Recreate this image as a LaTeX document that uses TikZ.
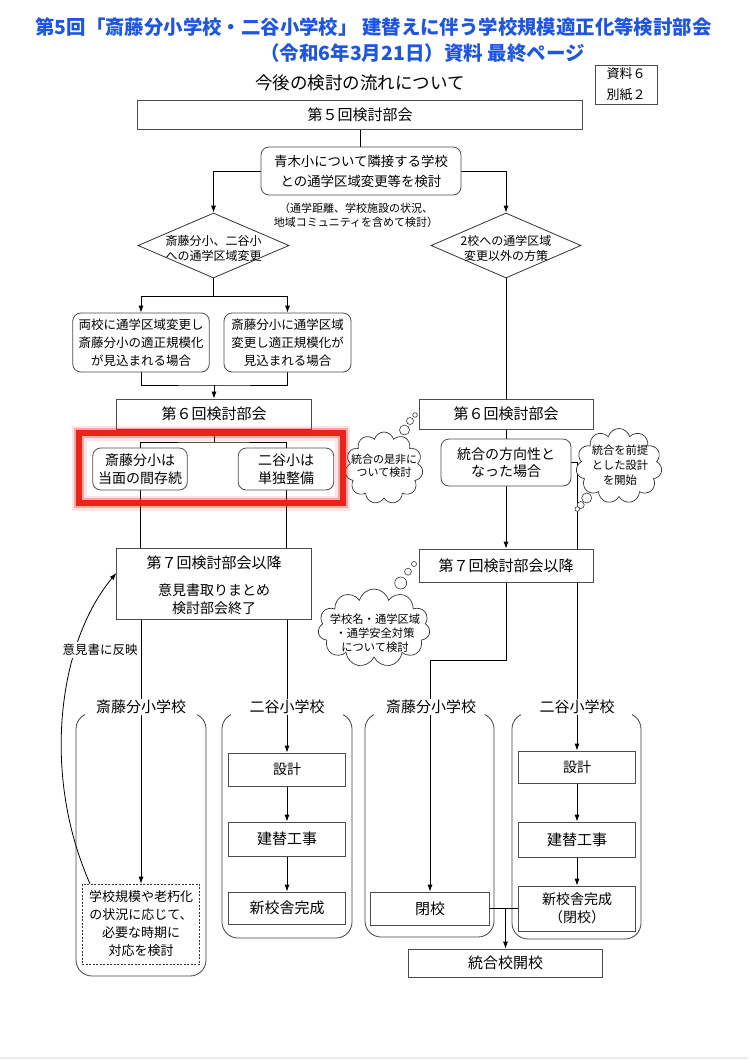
\documentclass[tikz,border=0pt]{standalone}
\usepackage{fontspec}
\setmainfont{Noto Sans CJK JP}
\usetikzlibrary{shapes.geometric,shapes.symbols,arrows.meta,backgrounds}
\definecolor{titleblue}{RGB}{30,85,225}
\definecolor{hlred}{RGB}{235,35,25}
\tikzset{
 bx/.style={draw=black!70, fill=white, line width=0.8pt, inner sep=0pt, align=center},
 rbx/.style={bx, rounded corners=8pt},
 cn/.style={line width=0.8pt, black},
 ar/.style={cn, -{Latex[length=7pt,width=5pt]}},
 txt/.style={inner sep=0pt, align=center},
 grp/.style={draw=black!75, line width=0.8pt, rounded corners=16pt},
 hdr/.style={fill=white, inner sep=1.5pt, font=\fontsize{15}{18}\selectfont},
 cld/.style={cloud, cloud puffs=11, cloud ignores aspect, draw=black!80, fill=white, line width=0.7pt, inner sep=0pt},
 bub/.style={circle, draw=black!80, fill=white, line width=0.6pt, inner sep=0pt},
 dia/.style={diamond, draw=black!80, fill=white, line width=0.8pt, inner sep=0pt},
}
\begin{document}
\begin{tikzpicture}[x=1pt,y=-1pt]
\useasboundingbox (0,0) rectangle (748,1060);
% titles
\node[txt, font=\bfseries\fontsize{19.4}{23}\selectfont, text=titleblue] (t1) at (373.5,27) {第5回「斎藤分小学校・二谷小学校」 建替えに伴う学校規模適正化等検討部会};
\node[txt, font=\bfseries\fontsize{19.5}{23}\selectfont, text=titleblue] (t2) at (422.5,53) {（令和6年3月21日）資料 最終ページ};
\node[txt, font=\fontsize{17.5}{20}\selectfont] (sub) at (360,83) {今後の検討の流れについて};
\node[bx, minimum width=62pt, minimum height=39pt, font=\fontsize{13}{21}\selectfont] (shi) at (626,84.5) {資料６\\別紙２};
% upper part
\node[bx, minimum width=445pt, minimum height=29pt, font=\fontsize{15}{18}\selectfont] (b5) at (360,115) {第５回検討部会};
\node[rbx, minimum width=200pt, minimum height=48pt, font=\fontsize{13.4}{20}\selectfont] (aoki) at (361,171) {青木小について隣接する学校\\との通学区域変更等を検討};
\node[txt, font=\fontsize{11}{14}\selectfont] (note) at (356,215) {（通学距離、学校施設の状況、\\地域コミュニティを含めて検討）};
\node[dia, minimum width=151pt, minimum height=65pt] (dL) at (213.5,245.5) {};
\node[txt, font=\fontsize{12}{15}\selectfont] (dLt) at (213.5,248) {斎藤分小、二谷小\\への通学区域変更};
\node[dia, minimum width=150pt, minimum height=65pt] (dR) at (506,245.5) {};
\node[txt, font=\fontsize{12}{15}\selectfont] (dRt) at (506,248) {2校への通学区域\\変更以外の方策};
\node[rbx, minimum width=136.5pt, minimum height=59pt, font=\fontsize{12.5}{18}\selectfont] (L1) at (141,342.5) {両校に通学区域変更し\\斎藤分小の適正規模化\\が見込まれる場合};
\node[rbx, minimum width=127pt, minimum height=59pt, font=\fontsize{12.5}{18}\selectfont] (L2) at (287.5,342.5) {斎藤分小に通学区域\\変更し適正規模化が\\見込まれる場合};
\node[bx, minimum width=194.5pt, minimum height=30pt, font=\fontsize{15}{18}\selectfont] (b6L) at (214,414) {第６回検討部会};
\node[bx, minimum width=174pt, minimum height=30pt, font=\fontsize{15}{18}\selectfont] (b6R) at (506,414) {第６回検討部会};
\node[rbx, minimum width=94.5pt, minimum height=42pt, font=\fontsize{14}{18.3}\selectfont] (S1) at (140,469) {斎藤分小は\\当面の間存続};
\node[rbx, minimum width=95.5pt, minimum height=42pt, font=\fontsize{14}{18.3}\selectfont] (S2) at (286,469) {二谷小は\\単独整備};
\node[rbx, minimum width=130pt, minimum height=47pt, font=\fontsize{14}{16.7}\selectfont] (R1) at (506,462.5) {統合の方向性と\\なった場合};
% clouds
\node[cld, minimum width=78pt, minimum height=72pt] (c1) at (384,468) {};
\node[txt, font=\fontsize{11}{12.7}\selectfont] (c1t) at (384,466) {統合の是非に\\ついて検討};
\node[bub, minimum size=10pt] (c1b1) at (404.5,430) {};
\node[bub, minimum size=7pt] (c1b2) at (410,421) {};
\node[bub, minimum size=4.6pt] (c1b3) at (415,415) {};
\node[cld, minimum width=86pt, minimum height=75pt] (c2) at (619,466) {};
\node[txt, font=\fontsize{11.3}{15}\selectfont] (c2t) at (620,465) {統合を前提\\とした設計\\を開始};
\node[bub, minimum size=10pt] (c2b1) at (586.7,498) {};
\node[bub, minimum size=7pt] (c2b2) at (580.7,505) {};
\node[bub, minimum size=4.6pt] (c2b3) at (577.3,509) {};
% 7th meetings
\node[bx, minimum width=194.5pt, minimum height=71pt] (b7L) at (214,583.5) {};
\node[txt, font=\fontsize{15}{18}\selectfont] (b7Lt) at (214,563) {第７回検討部会以降};
\node[txt, font=\fontsize{14}{18}\selectfont] (b7Ls) at (214,599) {意見書取りまとめ\\検討部会終了};
\node[bx, minimum width=174pt, minimum height=33pt, font=\fontsize{15}{18}\selectfont] (b7R) at (506,565.5) {第７回検討部会以降};
\node[cld, minimum width=112pt, minimum height=78pt] (c3) at (374,628) {};
\node[txt, font=\fontsize{11.3}{14}\selectfont] (c3t) at (375,633) {学校名・通学区域\\・通学安全対策\\について検討};
\node[bub, minimum size=12pt] (c3b1) at (400.7,583) {};
\node[bub, minimum size=7pt] (c3b2) at (408,571.7) {};
\node[bub, minimum size=5pt] (c3b3) at (414,564) {};
% group headers
\node[hdr] (h1) at (141,707) {斎藤分小学校};
\node[hdr] (h2) at (287,707) {二谷小学校};
\node[hdr] (h3) at (431,707) {斎藤分小学校};
\node[hdr] (h4) at (577,707) {二谷小学校};
% group contents
\node[draw=black!80, dash pattern=on 2pt off 1.5pt, fill=white, line width=0.6pt, inner sep=0pt, minimum width=117.5pt, minimum height=80pt, font=\fontsize{13}{18}\selectfont, align=center] (dsh) at (141,924) {学校規模や老朽化\\の状況に応じて、\\必要な時期に\\対応を検討};
\node[bx, minimum width=117pt, minimum height=33pt, font=\fontsize{14}{18}\selectfont] (sk2) at (287,769.5) {設計};
\node[bx, minimum width=117pt, minimum height=34pt, font=\fontsize{15}{18}\selectfont] (kj2) at (287,839) {建替工事};
\node[bx, minimum width=117pt, minimum height=32pt, font=\fontsize{15}{18}\selectfont] (sc2) at (287,908) {新校舎完成};
\node[bx, minimum width=118.5pt, minimum height=33pt, font=\fontsize{15}{18}\selectfont] (hk) at (430,908.5) {閉校};
\node[bx, minimum width=117pt, minimum height=32pt, font=\fontsize{14}{18}\selectfont] (sk4) at (577,767) {設計};
\node[bx, minimum width=117pt, minimum height=35pt, font=\fontsize{15}{18}\selectfont] (kj4) at (577,839.5) {建替工事};
\node[bx, minimum width=117pt, minimum height=45pt, font=\fontsize{14}{18}\selectfont] (sc4) at (577,908.5) {新校舎完成\\（閉校）};
\node[bx, minimum width=194.5pt, minimum height=28pt, font=\fontsize{15}{18}\selectfont] (tg) at (505.5,963) {統合校開校};
\node[txt, fill=white, inner sep=2pt, font=\fontsize{12.5}{15}\selectfont] (lbl) at (100,650) {意見書に反映};
% red highlight
\draw[hlred, line width=15pt, opacity=0.12] (79,433) rectangle (342.5,503);
\draw[hlred, line width=10pt, opacity=0.3] (79,433) rectangle (342.5,503);
\draw[hlred, line width=6pt] (79,433) rectangle (342.5,503);
% page edge
\draw[black!8, line width=1.5pt] (0,1058) -- (748,1058);
\begin{pgfonlayer}{background}
\draw[grp] (76,713) rectangle (206,976);
\draw[grp] (222,713) rectangle (352,938);
\draw[grp] (365,713) rectangle (494,937);
\draw[grp] (512,713) rectangle (641,939);
\fill[white] (85,710) rectangle (197,715.5);
\fill[white] (231,710) rectangle (343,715.5);
\fill[white] (374,710) rectangle (485,715.5);
\fill[white] (521,710) rectangle (632,715.5);
\draw[cn] (b5.south) -- (b5.south |- aoki.north);
\draw[ar] (aoki.west) -| (dL.north);
\draw[ar] (aoki.east) -| (dR.north);
\coordinate (j1) at (213.5,296);
\draw[cn] (dL.south) -- (j1);
\draw[ar] (j1) -| (L1.north);
\draw[ar] (j1) -| (L2.north);
\coordinate (j2) at (214,385);
\draw[cn] (L1.south) |- (j2) -| (L2.south);
\draw[ar] (j2) -- (b6L.north);
\draw[cn] (dR.south) -- (b6R.north);
\coordinate (j3) at (214,442);
\draw[cn] (b6L.south) -- (j3);
\draw[cn] (S1.north) |- (j3) -| (S2.north);
\draw[cn] (S1.south) -- (S1.south |- b7L.north);
\draw[cn] (S2.south) -- (S2.south |- b7L.north);
\draw[cn] (b6R.south) -- (R1.north);
\draw[ar] (R1.south) -- (b7R.north);
\draw[ar] (R1.east) -| (sk4.north);
\coordinate (j4) at (506,660);
\draw[ar] (b7R.south) -- (j4) -| (hk.north);
\draw[ar] (b7L.south -| dsh.north) -- (dsh.north);
\draw[ar] (b7L.south -| sk2.north) -- (sk2.north);
\draw[ar] (sk2.south) -- (kj2.north);
\draw[ar] (kj2.south) -- (sc2.north);
\draw[ar] (sk4.south) -- (kj4.north);
\draw[ar] (kj4.south) -- (sc4.north);
\draw[cn] (hk.east) -- (sc4.west);
\coordinate (j5) at (505.5,908.5);
\draw[ar] (j5) -- (tg.north);
\draw[ar] ([xshift=8pt]dsh.north west) .. controls (40,770) and (60,640) .. ([yshift=10.5pt]b7L.west);
\end{pgfonlayer}
\end{tikzpicture}
\end{document}
